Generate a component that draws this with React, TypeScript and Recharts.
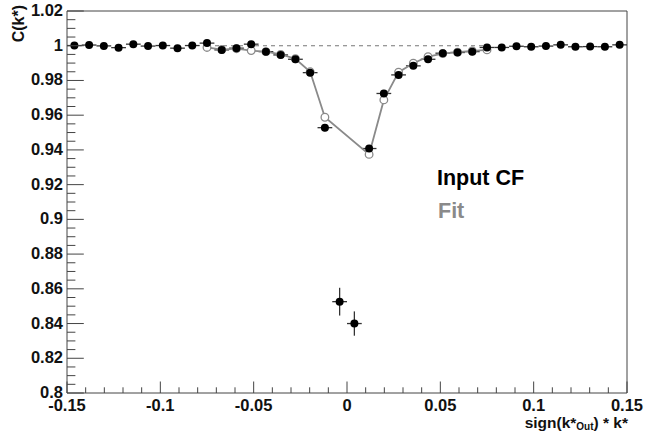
import React from 'react';
import { ScatterChart, Scatter, XAxis, YAxis, ErrorBar, ReferenceLine, ReferenceArea } from 'recharts';

// ---- data ----
const binCenters = [
  -0.14605, -0.13816, -0.13026, -0.12237, -0.11447, -0.10658, -0.09868, -0.09079, -0.08289, -0.075,
  -0.06711, -0.05921, -0.05132, -0.04342, -0.03553, -0.02763, -0.01974, -0.01184, -0.00395, 0.00395,
  0.01184, 0.01974, 0.02763, 0.03553, 0.04342, 0.05132, 0.05921, 0.06711, 0.075, 0.08289,
  0.09079, 0.09868, 0.10658, 0.11447, 0.12237, 0.13026, 0.13816, 0.14605,
];
const inputCF = [
  1.0001, 1.0004, 0.9999, 0.9989, 1.0009, 0.9998, 1.0001, 0.9986, 1.0001, 1.0015,
  0.9976, 0.9986, 1.0009, 0.9966, 0.9947, 0.9922, 0.9845, 0.9528, 0.8526, 0.84,
  0.9408, 0.9725, 0.9832, 0.9884, 0.9922, 0.9957, 0.9961, 0.9966, 0.999, 0.999,
  0.9997, 0.9994, 0.9998, 1.0005, 0.9994, 0.9995, 0.9994, 1.0005,
];
const inputErrY = [
  0.001, 0.001, 0.001, 0.001, 0.001, 0.001, 0.001, 0.001, 0.001, 0.001,
  0.001, 0.001, 0.001, 0.001, 0.001, 0.0012, 0.0015, 0.002, 0.008, 0.007,
  0.002, 0.0015, 0.0012, 0.001, 0.001, 0.001, 0.001, 0.001, 0.001, 0.001,
  0.001, 0.001, 0.001, 0.001, 0.001, 0.001, 0.001, 0.001,
];
const binHalfWidth = 0.00395;

const fitX = [
  -0.075, -0.06711, -0.05921, -0.05132, -0.04342, -0.03553, -0.02763, -0.01974, -0.01184,
  0.01184, 0.01974, 0.02763, 0.03553, 0.04342, 0.05132, 0.05921, 0.06711, 0.075,
];
const fitCF = [
  0.999, 0.9978, 0.9983, 0.9972, 0.9966, 0.995, 0.9925, 0.985, 0.9588,
  0.9374, 0.9688, 0.9848, 0.9899, 0.9937, 0.9955, 0.9963, 0.997, 0.9976,
];

const refLineFrom = -0.075;
const refLineTo = 0.075;

const xMajorTicks = [-0.15, -0.1, -0.05, 0, 0.05, 0.1, 0.15];
const xTickLabels = ['-0.15', '-0.1', '-0.05', '0', '0.05', '0.1', '0.15'];
const yMajorTicks = [0.8, 0.82, 0.84, 0.86, 0.88, 0.9, 0.92, 0.94, 0.96, 0.98, 1.0, 1.02];
const yTickLabels = ['0.8', '0.82', '0.84', '0.86', '0.88', '0.9', '0.92', '0.94', '0.96', '0.98', '1', '1.02'];

const X_DOMAIN: [number, number] = [-0.15, 0.15];
const Y_DOMAIN: [number, number] = [0.8, 1.02];

// ---- derived tables ----
const inputData = binCenters.map((x, i) => ({ x, y: inputCF[i], ex: binHalfWidth, ey: inputErrY[i] }));
const fitData = fitX.map((x, i) => ({ x, y: fitCF[i] }));

const subdivide = (majors: number[], n: number) => {
  const out: number[] = [];
  for (let i = 0; i < majors.length; i++) {
    out.push(majors[i]);
    if (i < majors.length - 1) {
      const step = (majors[i + 1] - majors[i]) / n;
      for (let j = 1; j < n; j++) out.push(+(majors[i] + step * j).toFixed(6));
    }
  }
  return out;
};
const xAllTicks = subdivide(xMajorTicks, 5);
const yAllTicks = subdivide(yMajorTicks, 4);

const FONT = '"Liberation Sans", Arial, Helvetica, sans-serif';
const AXIS_COLOR = '#444';
const LABEL_SIZE = 16.5;

const majorIndex = (arr: number[], v: number) => arr.findIndex((m) => Math.abs(m - v) < 1e-7);

const renderXTick = (props: any) => {
  const { x, y, payload } = props;
  const idx = majorIndex(xMajorTicks, payload.value);
  const len = idx >= 0 ? 11.5 : 5.7;
  return (
    <g key={`xt-${payload.value}`}>
      <line x1={x} x2={x} y1={y} y2={y - len} stroke={AXIS_COLOR} strokeWidth={1} />
      {idx >= 0 && (
        <text x={x} y={y + 17.5} textAnchor="middle" fontFamily={FONT} fontWeight="bold" fontSize={LABEL_SIZE} fill="#111">
          {xTickLabels[idx]}
        </text>
      )}
    </g>
  );
};

const renderYTick = (props: any) => {
  const { x, y, payload } = props;
  const idx = majorIndex(yMajorTicks, payload.value);
  const len = idx >= 0 ? 16.8 : 8.4;
  return (
    <g key={`yt-${payload.value}`}>
      <line x1={x} x2={x + len} y1={y} y2={y} stroke={AXIS_COLOR} strokeWidth={1} />
      {idx >= 0 && (
        <text x={x - 4} y={y + 5} textAnchor="end" fontFamily={FONT} fontWeight="bold" fontSize={LABEL_SIZE} fill="#111">
          {yTickLabels[idx]}
        </text>
      )}
    </g>
  );
};

const DataDot = (p: any) => <circle cx={p.cx} cy={p.cy} r={4} fill="#000" />;
const FitDot = (p: any) => <circle cx={p.cx} cy={p.cy} r={3.8} fill="#fff" stroke="#8a8a8a" strokeWidth={1.3} />;

export default function App() {
  return (
    <div style={{ position: 'absolute', left: 0, top: 0, width: 651, height: 432, background: '#fff' }}>
      <ScatterChart width={651} height={432} margin={{ top: 11, right: 24, bottom: 0, left: 0 }}>
        <XAxis
          type="number"
          dataKey="x"
          domain={X_DOMAIN}
          allowDataOverflow
          ticks={xAllTicks}
          interval={0}
          height={39}
          tickSize={0}
          tickMargin={0}
          axisLine={false}
          tickLine={false}
          tick={renderXTick}
        />
        <YAxis
          type="number"
          dataKey="y"
          domain={Y_DOMAIN}
          allowDataOverflow
          ticks={yAllTicks}
          interval={0}
          width={67}
          tickSize={0}
          tickMargin={0}
          axisLine={false}
          tickLine={false}
          tick={renderYTick}
        />
        <ReferenceArea x1={X_DOMAIN[0]} x2={X_DOMAIN[1]} y1={Y_DOMAIN[0]} y2={Y_DOMAIN[1]} fill="none" fillOpacity={0} stroke={AXIS_COLOR} strokeWidth={1} />
        <ReferenceLine
          segment={[{ x: refLineFrom, y: 1 }, { x: refLineTo, y: 1 }]}
          stroke="#777"
          strokeWidth={1.2}
          strokeDasharray="4 4"
        />
        <Scatter
          data={fitData}
          isAnimationActive={false}
          line={{ stroke: '#8a8a8a', strokeWidth: 1.8 }}
          lineType="joint"
          shape={FitDot}
        />
        <Scatter data={inputData} isAnimationActive={false} shape={DataDot}>
          <ErrorBar dataKey="ex" direction="x" width={0} stroke="#333" strokeWidth={1.3} isAnimationActive={false} />
          <ErrorBar dataKey="ey" direction="y" width={0} stroke="#333" strokeWidth={1.3} isAnimationActive={false} />
        </Scatter>
      </ScatterChart>
      <svg width={651} height={432} style={{ position: 'absolute', left: 0, top: 0, pointerEvents: 'none' }}>
        <text transform="rotate(-90)" x={-5} y={24} textAnchor="end" fontFamily={FONT} fontWeight="bold" fontSize={16} fill="#111">
          C(k*)
        </text>
        <text x={628} y={428} textAnchor="end" fontFamily={FONT} fontWeight="bold" fontSize={15.5} fill="#111">
          sign(k*
          <tspan fontSize={10} dy={1.5}>Out</tspan>
          <tspan dy={-1.5}>) * k*</tspan>
        </text>
        <text x={437} y={185} fontFamily={FONT} fontWeight="bold" fontSize={21.5} fill="#000">
          Input CF
        </text>
        <text x={438} y={218} fontFamily={FONT} fontWeight="bold" fontSize={21.5} fill="#8a8a8a">
          Fit
        </text>
      </svg>
    </div>
  );
}
